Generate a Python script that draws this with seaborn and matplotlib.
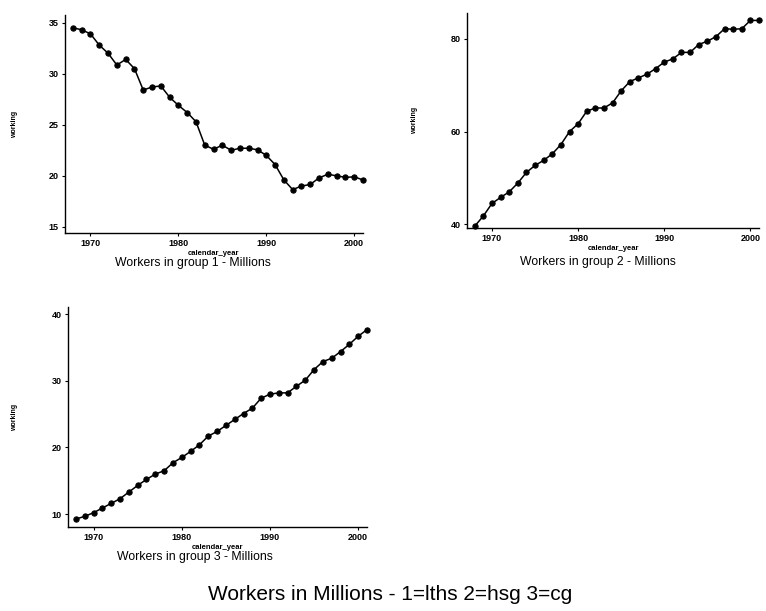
import matplotlib
matplotlib.use("Agg")
import matplotlib.pyplot as plt
import seaborn as sns
import pandas as pd

sns.set_style("ticks")
plt.rcParams['font.family'] = ['Liberation Sans', 'DejaVu Sans']
plt.rcParams['text.color'] = 'black'
plt.rcParams['axes.labelcolor'] = 'black'
plt.rcParams['xtick.color'] = 'black'
plt.rcParams['ytick.color'] = 'black'

years = list(range(1968, 2002))
group1 = [34.5, 34.3, 33.9, 32.8, 32.0, 30.85, 31.4, 30.5, 28.4, 28.7, 28.8, 27.7,
          26.9, 26.2, 25.3, 23.0, 22.6, 23.0, 22.5, 22.7, 22.7, 22.55, 22.0, 21.1,
          19.6, 18.65, 19.0, 19.15, 19.8, 20.15, 20.0, 19.85, 19.9, 19.6]
group2 = [39.6, 41.8, 44.5, 45.8, 47.0, 48.9, 51.2, 52.7, 53.8, 55.2, 57.2, 60.0,
          61.7, 64.4, 65.1, 65.1, 66.2, 68.8, 70.8, 71.6, 72.4, 73.6, 75.0, 75.7,
          77.1, 77.1, 78.8, 79.5, 80.5, 82.2, 82.1, 82.2, 84.0, 84.0]
group3 = [9.25, 9.65, 10.2, 10.9, 11.6, 12.3, 13.3, 14.3, 15.2, 16.0, 16.5, 17.7,
          18.5, 19.4, 20.4, 21.7, 22.4, 23.3, 24.2, 25.1, 25.9, 27.4, 28.0, 28.2,
          28.2, 29.2, 30.1, 31.7, 32.9, 33.4, 34.4, 35.5, 36.7, 37.7]
xticks = [1970, 1980, 1990, 2000]
subtitles = ["Workers in group 1 - Millions", "Workers in group 2 - Millions",
             "Workers in group 3 - Millions"]
main_title = "Workers in Millions - 1=lths 2=hsg 3=cg"

W, H = 766, 611
fig = plt.figure(figsize=(W / 100, H / 100), dpi=100)

def px_axes(left, top, right, bottom):
    return fig.add_axes([left / W, 1 - bottom / H, (right - left) / W, (bottom - top) / H])

panels = [
    dict(data=group1, box=(65, 15, 363, 233), ylim=(14.4, 35.75), yticks=[15, 20, 25, 30, 35],
         sub_xy=(193, 263), ylab_x=15),
    dict(data=group2, box=(467, 13, 759, 228), ylim=(39.2, 85.6), yticks=[40, 60, 80],
         sub_xy=(598, 262), ylab_x=415),
    dict(data=group3, box=(68, 307, 367, 527), ylim=(8.05, 41.1), yticks=[10, 20, 30, 40],
         sub_xy=(195, 557), ylab_x=15),
]

for p, sub in zip(panels, subtitles):
    ax = px_axes(*p["box"])
    df = pd.DataFrame({"calendar_year": years, "working": p["data"]})
    sns.lineplot(data=df, x="calendar_year", y="working", ax=ax, color="black",
                 linewidth=1.1, marker="o", markersize=3.8, markeredgecolor="black",
                 markerfacecolor="black", clip_on=False)
    ax.set_xlim(1967.1, 2001.0)
    ax.set_ylim(*p["ylim"])
    ax.set_xticks(xticks)
    ax.set_yticks(p["yticks"])
    ax.tick_params(axis="both", labelsize=6.5, length=2.5, width=0.8, pad=2)
    for lab in ax.get_xticklabels() + ax.get_yticklabels():
        lab.set_fontweight("bold")
    ax.set_xlabel("calendar_year", fontsize=5.5, fontweight="bold", labelpad=1)
    ax.set_ylabel("")
    for s in ["top", "right"]:
        ax.spines[s].set_visible(False)
    for s in ["left", "bottom"]:
        ax.spines[s].set_linewidth(1.0)
        ax.spines[s].set_color("black")
    bx = p["box"]
    fig.text(p["ylab_x"] / W, 1 - ((bx[1] + bx[3]) / 2) / H, "working", rotation=90,
             fontsize=5, fontweight="bold", ha="center", va="center")
    fig.text(p["sub_xy"][0] / W, 1 - p["sub_xy"][1] / H, sub, fontsize=8.8,
             ha="center", va="center")

fig.text(390 / W, 1 - 594 / H, main_title, fontsize=15, ha="center", va="center")

fig.savefig("out.png", dpi=100)
